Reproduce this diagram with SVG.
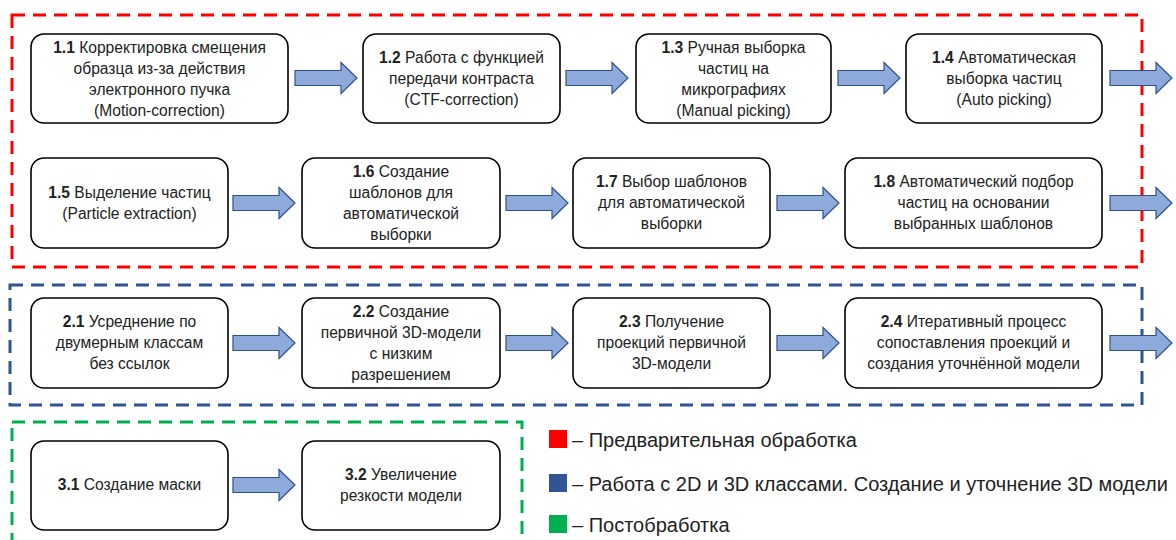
<svg xmlns="http://www.w3.org/2000/svg" width="1176" height="540" viewBox="0 0 1176 540">
<defs>
<style>
.node rect{fill:#fff;stroke:#000;stroke-width:1.6}
.node text{font-family:"Liberation Sans",Arial,sans-serif;font-size:15.6px;fill:#222;text-anchor:middle}
.b{font-weight:bold}
.arr{fill:#8eaadb;stroke:#2f528f;stroke-width:1.2}
.grp{fill:none;stroke-width:3;stroke-dasharray:13 8}
.leg{font-family:"Liberation Sans",Arial,sans-serif;font-size:20px;fill:#222}
</style>
<path id="a" class="arr" d="M0,-7.5H46V-15.5L62,0L46,15.5V7.5H0Z"/>
</defs>
<g id="groups">
<rect class="grp" x="12" y="15" width="1130" height="252" stroke="#ff0000"/>
<rect class="grp" x="10" y="285" width="1132" height="120" stroke="#2f5597"/>
<rect class="grp" x="12" y="422" width="510" height="140" stroke="#00b050"/>
</g>
<g id="connectors">
<use href="#a" x="295" y="78"/>
<use href="#a" x="566" y="78"/>
<use href="#a" x="838" y="78"/>
<use href="#a" x="1110" y="78"/>
<use href="#a" x="233" y="203"/>
<use href="#a" x="506" y="203"/>
<use href="#a" x="777" y="203"/>
<use href="#a" x="1110" y="203"/>
<use href="#a" x="233" y="343"/>
<use href="#a" x="506" y="343"/>
<use href="#a" x="777" y="343"/>
<use href="#a" x="1110" y="343"/>
<use href="#a" x="233" y="485"/>
</g>
<g id="n11" class="node"><rect x="31" y="34" width="257" height="89" rx="13"/>
<text x="159.5" y="53"><tspan class="b">1.1</tspan> Корректировка смещения</text>
<text x="159.5" y="74">образца из-за действия</text>
<text x="159.5" y="95">электронного пучка</text>
<text x="159.5" y="116">(Motion-correction)</text></g>
<g id="n12" class="node"><rect x="363" y="34" width="197" height="89" rx="13"/>
<text x="461.5" y="63"><tspan class="b">1.2</tspan> Работа с функцией</text>
<text x="461.5" y="84">передачи контраста</text>
<text x="461.5" y="105">(CTF-correction)</text></g>
<g id="n13" class="node"><rect x="636" y="34" width="195" height="89" rx="13"/>
<text x="733.5" y="53"><tspan class="b">1.3</tspan> Ручная выборка</text>
<text x="733.5" y="74">частиц на</text>
<text x="733.5" y="95">микрографиях</text>
<text x="733.5" y="116">(Manual picking)</text></g>
<g id="n14" class="node"><rect x="906" y="34" width="196" height="89" rx="13"/>
<text x="1004" y="63"><tspan class="b">1.4</tspan> Автоматическая</text>
<text x="1004" y="84">выборка частиц</text>
<text x="1004" y="105">(Auto picking)</text></g>
<g id="n15" class="node"><rect x="31" y="158" width="197" height="90" rx="13"/>
<text x="129.5" y="198"><tspan class="b">1.5</tspan> Выделение частиц</text>
<text x="129.5" y="219">(Particle extraction)</text></g>
<g id="n16" class="node"><rect x="302" y="158" width="198" height="90" rx="13"/>
<text x="401" y="177"><tspan class="b">1.6</tspan> Создание</text>
<text x="401" y="198">шаблонов для</text>
<text x="401" y="219">автоматической</text>
<text x="401" y="240">выборки</text></g>
<g id="n17" class="node"><rect x="573" y="158" width="197" height="90" rx="13"/>
<text x="671.5" y="187"><tspan class="b">1.7</tspan> Выбор шаблонов</text>
<text x="671.5" y="208">для автоматической</text>
<text x="671.5" y="229">выборки</text></g>
<g id="n18" class="node"><rect x="845" y="158" width="257" height="90" rx="13"/>
<text x="973.5" y="187"><tspan class="b">1.8</tspan> Автоматический подбор</text>
<text x="973.5" y="208">частиц на основании</text>
<text x="973.5" y="229">выбранных шаблонов</text></g>
<g id="n21" class="node"><rect x="31" y="298" width="197" height="90" rx="13"/>
<text x="129.5" y="327"><tspan class="b">2.1</tspan> Усреднение по</text>
<text x="129.5" y="348">двумерным классам</text>
<text x="129.5" y="369">без ссылок</text></g>
<g id="n22" class="node"><rect x="302" y="298" width="198" height="90" rx="13"/>
<text x="401" y="317"><tspan class="b">2.2</tspan> Создание</text>
<text x="401" y="338">первичной 3D-модели</text>
<text x="401" y="359">с низким</text>
<text x="401" y="380">разрешением</text></g>
<g id="n23" class="node"><rect x="573" y="298" width="197" height="90" rx="13"/>
<text x="671.5" y="327"><tspan class="b">2.3</tspan> Получение</text>
<text x="671.5" y="348">проекций первичной</text>
<text x="671.5" y="369">3D-модели</text></g>
<g id="n24" class="node"><rect x="845" y="298" width="257" height="90" rx="13"/>
<text x="973.5" y="327"><tspan class="b">2.4</tspan> Итеративный процесс</text>
<text x="973.5" y="348">сопоставления проекций и</text>
<text x="973.5" y="369">создания уточнённой модели</text></g>
<g id="n31" class="node"><rect x="31" y="441" width="197" height="89" rx="13"/>
<text x="129.5" y="490"><tspan class="b">3.1</tspan> Создание маски</text></g>
<g id="n32" class="node"><rect x="302" y="441" width="198" height="89" rx="13"/>
<text x="401" y="480"><tspan class="b">3.2</tspan> Увеличение</text>
<text x="401" y="501">резкости модели</text></g>
<g id="legend">
<rect x="549" y="430" width="18" height="18" fill="#ff0000"/>
<text class="leg" x="572" y="447">– Предварительная обработка</text>
<rect x="549" y="474" width="18" height="18" fill="#2f5597"/>
<text class="leg" x="572" y="491">– Работа с 2D и 3D классами. Создание и уточнение 3D модели</text>
<rect x="549" y="515" width="18" height="18" fill="#00b050"/>
<text class="leg" x="572" y="532">– Постобработка</text>
</g>
</svg>
